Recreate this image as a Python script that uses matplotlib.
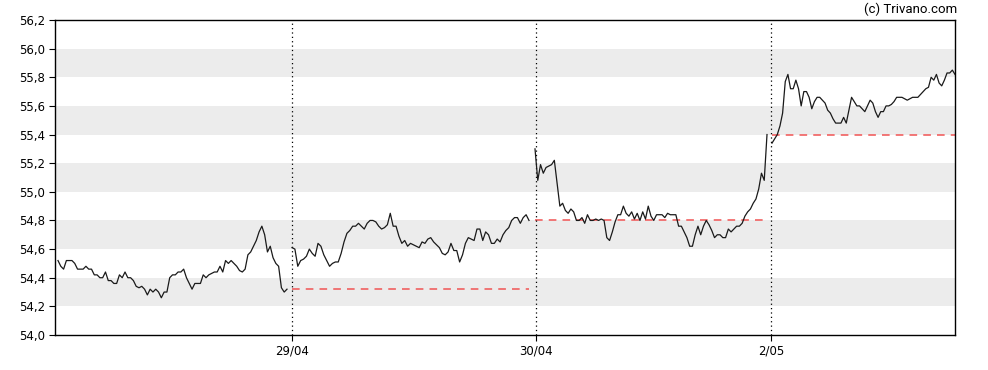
import matplotlib
matplotlib.use("Agg")
import matplotlib.pyplot as plt
import numpy as np
from matplotlib.ticker import FuncFormatter

# intraday prices, one list per trading session
s0 = [54.52, 54.48, 54.46, 54.52, 54.52, 54.52, 54.50, 54.46, 54.46, 54.46,
      54.48, 54.46, 54.46, 54.42, 54.42, 54.40, 54.40, 54.44, 54.38, 54.38,
      54.36, 54.36, 54.42, 54.40, 54.44, 54.40, 54.40, 54.38, 54.34, 54.33,
      54.34, 54.32, 54.28, 54.32, 54.30, 54.32, 54.30, 54.26, 54.30, 54.30,
      54.40, 54.42, 54.42, 54.44, 54.44, 54.46, 54.40, 54.36, 54.32, 54.36,
      54.36, 54.36, 54.42, 54.40, 54.42, 54.43, 54.44, 54.44, 54.48, 54.44,
      54.52, 54.50, 54.52, 54.50, 54.48, 54.45, 54.44, 54.46, 54.56, 54.58,
      54.62, 54.66, 54.72, 54.76, 54.70, 54.58, 54.62, 54.54, 54.50, 54.48,
      54.33, 54.30, 54.32]
s1 = [54.61, 54.60, 54.48, 54.52, 54.53, 54.55, 54.60, 54.57, 54.55, 54.64,
      54.62, 54.56, 54.52, 54.48, 54.50, 54.51, 54.51, 54.57, 54.65, 54.71,
      54.73, 54.76, 54.76, 54.78, 54.76, 54.74, 54.78, 54.80, 54.80, 54.79,
      54.76, 54.74, 54.75, 54.77, 54.85, 54.76, 54.76, 54.69, 54.64, 54.66,
      54.62, 54.64, 54.63, 54.62, 54.61, 54.65, 54.64, 54.67, 54.68, 54.65,
      54.63, 54.61, 54.57, 54.56, 54.58, 54.64, 54.59, 54.59, 54.51, 54.56,
      54.64, 54.68, 54.67, 54.66, 54.74, 54.74, 54.66, 54.72, 54.70, 54.64,
      54.64, 54.67, 54.65, 54.70, 54.73, 54.75, 54.80, 54.82, 54.82, 54.78,
      54.82, 54.84, 54.80]
s2 = [55.30, 55.08, 55.19, 55.13, 55.17, 55.18, 55.19, 55.22, 55.06, 54.90,
      54.92, 54.87, 54.85, 54.88, 54.86, 54.80, 54.80, 54.82, 54.78, 54.84,
      54.80, 54.80, 54.81, 54.80, 54.81, 54.80, 54.68, 54.66, 54.72, 54.79,
      54.84, 54.84, 54.90, 54.85, 54.83, 54.86, 54.81, 54.85, 54.80, 54.86,
      54.81, 54.90, 54.83, 54.80, 54.84, 54.84, 54.84, 54.82, 54.85, 54.84,
      54.84, 54.84, 54.76, 54.76, 54.72, 54.68, 54.62, 54.62, 54.70, 54.76,
      54.70, 54.76, 54.80, 54.77, 54.73, 54.68, 54.70, 54.70, 54.68, 54.68,
      54.74, 54.72, 54.74, 54.76, 54.76, 54.78, 54.83, 54.86, 54.88, 54.92,
      54.95, 55.02, 55.13, 55.08, 55.40]
s3 = [55.34, 55.37, 55.40, 55.46, 55.55, 55.77, 55.82, 55.72, 55.72, 55.78,
      55.72, 55.60, 55.70, 55.70, 55.66, 55.58, 55.63, 55.66, 55.66, 55.64,
      55.62, 55.57, 55.55, 55.51, 55.48, 55.48, 55.48, 55.52, 55.48, 55.57,
      55.66, 55.63, 55.60, 55.60, 55.58, 55.56, 55.60, 55.64, 55.62, 55.56,
      55.52, 55.56, 55.56, 55.60, 55.60, 55.61, 55.63, 55.66, 55.66, 55.66,
      55.65, 55.64, 55.65, 55.66, 55.66, 55.66, 55.68, 55.70, 55.72, 55.73,
      55.80, 55.78, 55.82, 55.76, 55.74, 55.78, 55.83, 55.83, 55.85, 55.82]
sessions = [s0, s1, s2, s3]
day_labels = ['29/04', '30/04', '2/05']

# session extent on the time axis, last session is still open
session_spans = [(3, 232), (237, 474), (480, 712), (717, 900)]
day_starts = [237, 481, 716]

y_min, y_max, y_step = 54.0, 56.2, 0.2


def main():
    fig = plt.figure(figsize=(9.88, 3.70), dpi=100)
    ax = fig.add_axes([55 / 988, 1 - 335 / 370, 900 / 988, 315 / 370])
    plt.rcParams['font.family'] = ['Roboto', 'DejaVu Sans']

    # alternating bands
    levels = np.arange(y_min, y_max + 1e-9, y_step)
    for i in range(1, len(levels) - 1, 2):
        ax.axhspan(levels[i], levels[i + 1], color='#ececec', lw=0, zorder=0)

    for i, values in enumerate(sessions):
        start, end = session_spans[i]
        x = np.linspace(start, end, len(values))
        ax.plot(x, values, color='#1a1a1a', lw=0.9, zorder=3)
        # previous close
        if i > 0:
            prev = sessions[i - 1][-1]
            ax.plot([start, end], [prev, prev], color='#f05454', lw=1.1,
                    ls=(0, (5, 4)), zorder=2)

    for d in day_starts:
        ax.axvline(d, color='black', lw=0.9, ls=(0, (1, 2.5)), zorder=2)

    ax.set_xlim(0, 900)
    ax.set_ylim(y_min, y_max)
    ax.set_yticks(levels)
    ax.yaxis.set_major_formatter(FuncFormatter(lambda v, p: ('%.1f' % v).replace('.', ',')))
    ax.set_xticks(day_starts)
    ax.set_xticklabels(day_labels)
    ax.tick_params(labelsize=8.5, length=4, width=0.8, colors='black', pad=3)
    for s in ax.spines.values():
        s.set_linewidth(1.0)

    fig.text(957 / 988, 1 - 9 / 370, '(c) Trivano.com', ha='right', va='center',
             fontsize=9.5)

    fig.savefig('out.png', dpi=100)
    plt.close(fig)


if "__main__" == __name__:
    main()
